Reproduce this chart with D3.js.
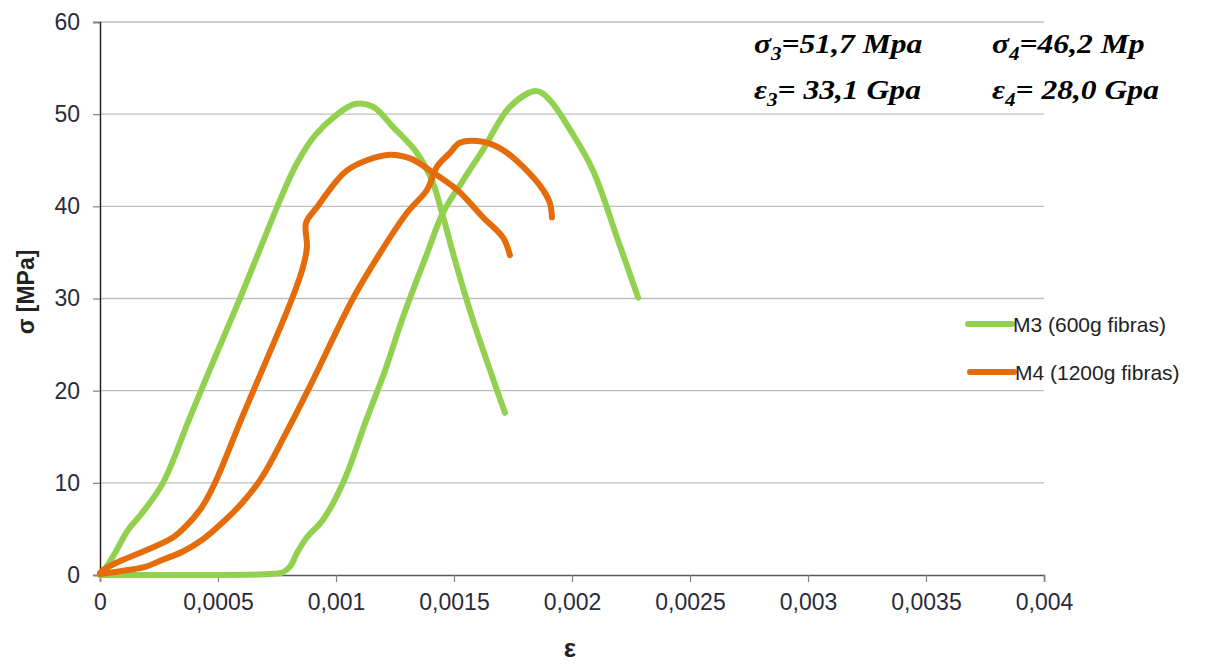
<!DOCTYPE html>
<html><head><meta charset="utf-8">
<script src="https://cdn.jsdelivr.net/npm/d3@7"></script>
<style>body{margin:0;background:#fff}svg{display:block}</style>
</head><body>
<script>
// ---- data (ε, σ[MPa]) ----
const xTicks = [0, 0.0005, 0.001, 0.0015, 0.002, 0.0025, 0.003, 0.0035, 0.004];
const xTickLabels = ["0", "0,0005", "0,001", "0,0015", "0,002", "0,0025", "0,003", "0,0035", "0,004"];
const yTicks = [0, 10, 20, 30, 40, 50, 60];
const seriesNames = ["M3 (600g fibras)", "M4 (1200g fibras)"];
const m3a = [[0,0],[0.0000127,0.33],[0.0000636,2.39],[0.0001186,4.88],[0.000178,6.72],[0.000267,10],[0.000381,17.1],[0.000487,23.6],[0.000593,30],[0.000699,36.7],[0.000763,40.7],[0.000835,44.7],[0.000911,47.7],[0.000996,49.8],[0.00108,51.1],[0.001157,50.8],[0.001242,48.6],[0.001343,45.8],[0.001407,42.8],[0.001449,39.3],[0.001496,34.9],[0.001576,28],[0.001653,22.2],[0.001716,17.6]];
const m3b = [[0,0],[0.00042,0],[0.00072,0.1],[0.000775,0.3],[0.000805,0.9],[0.000835,2.4],[0.000877,4.1],[0.000945,6.0],[0.00103,10],[0.001128,16.8],[0.001208,22.2],[0.001284,28],[0.001386,34.9],[0.001453,39.3],[0.001538,42.8],[0.001622,46.1],[0.001737,50.8],[0.001850,52.5],[0.001907,51.5],[0.001992,48.3],[0.002089,43.9],[0.002191,36.6],[0.002280,30.1]];
const m4a = [[0,0.2],[0.0000127,0.54],[0.0000763,1.41],[0.000178,2.49],[0.000305,4.01],[0.00036,5.2],[0.000432,7.38],[0.000487,9.98],[0.000602,17.1],[0.000814,30],[0.00086,33.4],[0.000877,35.6],[0.000873,38.2],[0.000919,39.9],[0.001004,42.8],[0.001047,43.9],[0.001131,45.0],[0.001229,45.6],[0.001314,45.2],[0.001398,43.9],[0.001513,41.8],[0.001623,38.8],[0.001708,36.6],[0.001737,34.7]];
const m4b = [[0,0.1],[0.0001186,0.54],[0.000191,0.87],[0.000263,1.63],[0.000347,2.49],[0.000432,3.8],[0.000517,5.64],[0.000602,7.81],[0.000686,10.6],[0.000784,15.2],[0.00089,20.5],[0.001072,30],[0.001186,34.9],[0.001301,39.3],[0.001386,41.8],[0.001428,44.3],[0.001483,45.8],[0.001525,46.9],[0.001623,47.0],[0.001708,46.1],[0.001792,44.3],[0.001877,41.8],[0.001907,40.3],[0.001915,38.8]];
const annotLeft = [["σ","3","=51,7 Mpa"],["ε","3","= 33,1 Gpa"]];
const annotRight = [["σ","4","=46,2 Mp"],["ε","4","= 28,0 Gpa"]];

const W = 1205, H = 664;
const m = {l:100, r:1205-1044, t:22, b:664-575};
const svg = d3.select("body").append("svg").attr("width", W).attr("height", H);
const x = d3.scaleLinear().domain([0, 0.004]).range([m.l, W - m.r]);
const y = d3.scaleLinear().domain([0, 60]).range([H - m.b, m.t]);
const green = "#92D050", orange = "#E46C0A";
const font = "'Liberation Sans', Arial, sans-serif";

// gridlines
svg.append("g").selectAll("line").data(yTicks.filter(d => d > 0)).join("line")
  .attr("x1", x(0)).attr("x2", x(0.004)).attr("y1", d => y(d)).attr("y2", d => y(d))
  .attr("stroke", "#BFBFBF").attr("stroke-width", 1.3);

// axes
const yAxis = svg.append("g").attr("transform", `translate(${x(0)},0)`)
  .call(d3.axisLeft(y).tickValues(yTicks).tickSize(7).tickPadding(13));
const xAxis = svg.append("g").attr("transform", `translate(0,${y(0)})`)
  .call(d3.axisBottom(x).tickValues(xTicks).tickSize(7).tickPadding(12).tickFormat((d, i) => xTickLabels[i]));
[yAxis, xAxis].forEach(g => {
  g.select(".domain").attr("stroke", "#262626").attr("stroke-width", 1.5);
  g.selectAll(".tick line").attr("stroke", "#808080").attr("stroke-width", 1.2);
  g.selectAll("text").attr("fill", "#2a2a3a").attr("font-family", font);
});
yAxis.selectAll("text").attr("font-size", 23);
xAxis.selectAll("text").attr("font-size", 23);
xAxis.select(".domain").attr("stroke", "#595959");

// series
const line = d3.line().x(d => x(d[0])).y(d => y(d[1])).curve(d3.curveCatmullRom.alpha(0.5));
const series = [[m3a, green], [m3b, green], [m4a, orange], [m4b, orange]];
svg.append("g").selectAll("path").data(series).join("path")
  .attr("d", d => line(d[0])).attr("fill", "none").attr("stroke", d => d[1])
  .attr("stroke-width", 6).attr("stroke-linecap", "round").attr("stroke-linejoin", "round");

// legend
const leg = svg.append("g");
[[green, 324, 968], [orange, 372, 970]].forEach((c, i) => {
  leg.append("line").attr("x1", c[2]).attr("x2", c[2] + 44).attr("y1", c[1]).attr("y2", c[1])
    .attr("stroke", c[0]).attr("stroke-width", 6).attr("stroke-linecap", "round");
  leg.append("text").attr("x", c[2] + 45).attr("y", c[1] + 8).text(seriesNames[i])
    .attr("font-family", font).attr("font-size", 21).attr("fill", "#222");
});

// axis titles
svg.append("text").attr("transform", "translate(34,292) rotate(-90)").attr("text-anchor", "middle")
  .attr("font-family", font).attr("font-weight", "bold").attr("font-size", 23).attr("fill", "#222").text("σ [MPa]");
svg.append("text").attr("x", 570).attr("y", 657).attr("text-anchor", "middle")
  .attr("font-family", font).attr("font-weight", "bold").attr("font-size", 26).attr("fill", "#222").text("ε");

// annotations
function annot(arr, x0) {
  arr.forEach((a, i) => {
    const t = svg.append("text").attr("transform", `translate(${x0},${53 + i * 46}) scale(1.17,1)`)
      .attr("font-family", "'Liberation Serif', 'Times New Roman', serif")
      .attr("font-weight", "bold").attr("font-style", "italic").attr("font-size", 27).attr("fill", "#000");
    t.append("tspan").text(a[0]);
    t.append("tspan").attr("font-size", 18).attr("dy", 7).text(a[1]);
    t.append("tspan").attr("dy", -7).text(a[2]);
  });
}
annot(annotLeft, 754);
annot(annotRight, 992);
</script>
</body></html>
